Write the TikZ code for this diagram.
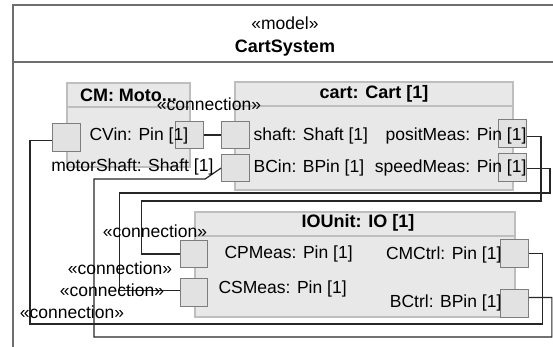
\documentclass[tikz,border=0pt]{standalone}
\usepackage{fontspec}
\setmainfont{Liberation Sans}
\usetikzlibrary{positioning,calc}
\definecolor{blockfill}{RGB}{232,232,232}
\definecolor{blockline}{RGB}{190,190,190}
\definecolor{portfill}{RGB}{226,226,226}
\definecolor{portline}{RGB}{125,125,125}
\definecolor{frameline}{RGB}{110,110,110}

\begin{document}
\begin{tikzpicture}[x=1pt, y=-1pt, line width=1.2pt,
    block/.style={fill=blockfill, draw=blockline, outer sep=0pt, inner sep=0pt, anchor=north west},
    port/.style={fill=portfill, draw=portline, minimum width=27.5pt, minimum height=27.5pt, inner sep=0pt},
    wire/.style={draw=black!85, line width=1.2pt},
    lbl/.style={font=\fontsize{17.5}{20}\selectfont, inner sep=0pt},
    title/.style={font=\fontsize{18}{20}\selectfont\bfseries, inner sep=0pt}
  ]
  \def\headh{24}
  \path [use as bounding box, clip] (0,0) rectangle (553,347);

  % model frame
  \draw [frameline] (13,5) rectangle (558,360);
  \draw [frameline] (13,62) -- (558,62);
  \node [lbl] (stereo) at (285,23) {«model»};
  \node [title] (sysname) at (285,48) {CartSystem};

  % parts
  \node [block, minimum width=123pt, minimum height=84pt] (cm) at (67,83) {};
  \node [block, minimum width=278pt, minimum height=108pt] (cart) at (235,82) {};
  \node [block, minimum width=320pt, minimum height=105pt] (io) at (195,212) {};
  \foreach \b in {cm,cart,io}
    \draw [blockline] ($(\b.north west)+(0,\headh)$) -- ($(\b.north east)+(0,\headh)$);
  \node [title] (cmtitle) at ($(cm.north)+(0,12)$) {CM: Moto...};
  \node [title] (carttitle) at ($(cart.north)+(0,12)$) {cart: Cart [1]};
  \node [title] (iotitle) at ($(io.north)+(3,11)$) {IOUnit: IO [1]};

  % ports
  \node [port] (cvin) at (66.5,137.5) {};
  \node [port] (motorshaft) at (189.5,135) {};
  \node [port] (shaft) at (235.5,135) {};
  \node [port] (bcin) at (235.5,168) {};
  \node [port] (posit) at (512.5,133.5) {};
  \node [port] (speed) at (512.5,167.5) {};
  \node [port] (cpmeas) at (194,254) {};
  \node [port] (csmeas) at (194,292.5) {};
  \node [port] (cmctrl) at (514.5,253.5) {};
  \node [port] (bctrl) at (514.5,303.5) {};

  % connectors
  \draw [wire] (motorshaft.east) -- (shaft.west);
  \draw [wire] ([yshift=-3pt]cvin.west) -| (30,324) -| ([xshift=14pt]cmctrl.east) -- (cmctrl.east);
  \draw [wire] (bcin.west) -- ++(-16,11) -| (94,337) -| ([xshift=23pt,yshift=6pt]bctrl.east) -- ([yshift=6pt]bctrl.east);
  \draw [wire] ([yshift=-3pt]posit.east) -| (541,201) -| ([xshift=-38pt]cpmeas.west) -- (cpmeas.west);
  \draw [wire] ([yshift=-1pt]speed.east) -| (550,193) -| ([xshift=-60pt,yshift=2pt]csmeas.west) -- ([yshift=2pt]csmeas.west);

  % port labels
  \node [lbl, anchor=west] (cvinlbl) at (89,136) {CVin: Pin [1]};
  \node [lbl, anchor=east] (motorshaftlbl) at (214,167) {motorShaft: Shaft [1]};
  \node [lbl, anchor=west] (shaftlbl) at (253,136) {shaft: Shaft [1]};
  \node [lbl, anchor=west] (bcinlbl) at (253,168) {BCin: BPin [1]};
  \node [lbl, anchor=east] (positlbl) at (527,136) {positMeas: Pin [1]};
  \node [lbl, anchor=east] (speedlbl) at (527,168) {speedMeas: Pin [1]};
  \node [lbl, anchor=west] (cpmeaslbl) at (224,254) {CPMeas: Pin [1]};
  \node [lbl, anchor=west] (csmeaslbl) at (218,289) {CSMeas: Pin [1]};
  \node [lbl, anchor=east] (cmctrllbl) at (502,255) {CMCtrl: Pin [1]};
  \node [lbl, anchor=east] (bctrllbl) at (502,303) {BCtrl: BPin [1]};

  % connection stereotypes
  \node [lbl] (conn1) at (209,104) {«connection»};
  \node [lbl] (conn2) at (155,231) {«connection»};
  \node [lbl] (conn3) at (120,268) {«connection»};
  \node [lbl] (conn4) at (112,290) {«connection»};
  \node [lbl] (conn5) at (72,312) {«connection»};
\end{tikzpicture}
\end{document}
